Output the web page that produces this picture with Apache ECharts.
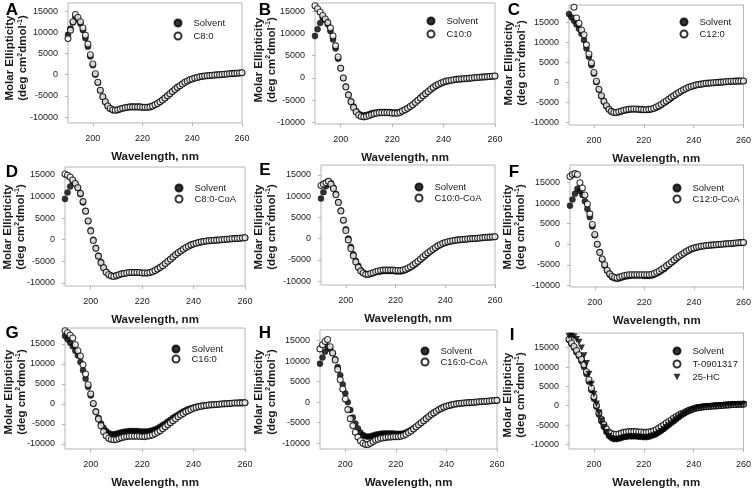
<!DOCTYPE html>
<html><head><meta charset="utf-8">
<script src="https://cdn.jsdelivr.net/npm/echarts@6/dist/echarts.min.js"></script>
<style>html,body{margin:0;padding:0;background:#fff}#c{width:754px;height:490px}</style>
</head><body><div id="c"></div>
<script>
const wavelengths = [190,191,192,193,194,195,196,197,198,199,200,201,202,203,204,205,206,207,208,209,210,211,212,213,214,215,216,217,218,219,220,221,222,223,224,225,226,227,228,229,230,231,232,233,234,235,236,237,238,239,240,241,242,243,244,245,246,247,248,249,250,251,252,253,254,255,256,257,258,259,260];
const xTicks = [200,220,240,260];
const yTicks = [-10000,-5000,0,5000,10000,15000];

// Solvent control (panels A, B, D, E, F, H)
const solventA = [9400,10900,12300,13500,13000,12000,10500,8600,6600,4300,
 2200,0,-1900,-3700,-5200,-6400,-7400,-8000,-8300,-8400,
 -8300,-8100,-7900,-7800,-7700,-7600,-7600,-7600,-7600,-7600,
 -7700,-7700,-7700,-7600,-7400,-7100,-6800,-6400,-6000,-5500,
 -5000,-4500,-4000,-3500,-3000,-2600,-2200,-1800,-1500,-1200,
 -1000,-800,-650,-500,-400,-300,-250,-200,-150,-100,
 -50,0,50,100,150,200,250,300,350,400,450];
// Solvent control (panels C, G)
const solventC = [17000,16200,15300,14400,13300,12100,10500,8400,6300,4200,
 2100,0,-1900,-3500,-4900,-6000,-6800,-7300,-7600,-7600,
 -7500,-7300,-7100,-7000,-6900,-6800,-6800,-6800,-6800,-6900,
 -6900,-6900,-6900,-6800,-6600,-6400,-6100,-5700,-5300,-4900,
 -4400,-4000,-3500,-3100,-2700,-2300,-1900,-1600,-1300,-1100,
 -900,-700,-600,-500,-400,-300,-250,-200,-150,-100,
 -50,0,50,100,150,200,250,250,300,300,300];
// Solvent control (panel I)
const solventI = [17000,16000,15000,13800,12800,11500,10000,8200,6200,4000,
 1800,-300,-2300,-4000,-5500,-6800,-7800,-8300,-8600,-8600,
 -8500,-8300,-8100,-8000,-7900,-7900,-7900,-7900,-8000,-8000,
 -8100,-8100,-8000,-7800,-7600,-7300,-6900,-6500,-6000,-5500,
 -5000,-4500,-4000,-3500,-3000,-2500,-2100,-1700,-1400,-1100,
 -800,-600,-500,-400,-300,-250,-200,-150,-100,-50,
 0,50,100,150,200,250,300,300,350,350,400];
const c8 = [8500,10500,12500,14200,13500,12500,11000,9300,7200,4700,
 2500,200,-1800,-3700,-5200,-6400,-7400,-8000,-8300,-8400,
 -8300,-8100,-7900,-7800,-7700,-7600,-7600,-7600,-7600,-7600,
 -7700,-7700,-7700,-7600,-7400,-7100,-6800,-6400,-6000,-5500,
 -5000,-4500,-4000,-3500,-3000,-2600,-2200,-1800,-1500,-1200,
 -1000,-800,-650,-500,-400,-300,-250,-200,-150,-100,
 -50,0,50,100,150,200,250,300,350,400,450];
const c10 = [16200,15500,14800,14000,13200,12400,11200,9400,7200,4700,
 2200,0,-2000,-3800,-5300,-6600,-7600,-8300,-8600,-8700,
 -8600,-8400,-8200,-8000,-7900,-7800,-7800,-7800,-7800,-7800,
 -7900,-7900,-7900,-7700,-7400,-7100,-6800,-6400,-6000,-5500,
 -5000,-4500,-4000,-3500,-3000,-2500,-2100,-1700,-1400,-1100,
 -900,-700,-600,-500,-400,-300,-250,-200,-150,-100,
 -50,0,50,100,150,200,250,300,350,400,450];
const c12 = [null,null,18700,16000,14700,13000,11800,9300,7000,4800,
 2400,200,-1800,-3400,-4800,-5900,-6800,-7300,-7600,-7600,
 -7400,-7200,-7000,-6900,-6800,-6700,-6700,-6700,-6800,-6800,
 -6900,-6900,-6800,-6700,-6500,-6200,-5900,-5500,-5100,-4700,
 -4300,-3800,-3400,-3000,-2600,-2200,-1900,-1600,-1300,-1100,
 -900,-700,-600,-500,-400,-300,-250,-200,-150,-100,
 -50,0,50,100,150,200,200,250,250,300,300];
const c8CoA = [15200,14900,14500,13800,13000,12000,10700,8800,6600,4300,
 2000,-200,-2000,-3800,-5300,-6500,-7500,-8100,-8400,-8500,
 -8300,-8100,-7900,-7800,-7700,-7600,-7600,-7600,-7600,-7600,
 -7700,-7700,-7700,-7600,-7400,-7100,-6800,-6400,-6000,-5500,
 -5000,-4500,-4000,-3500,-3000,-2600,-2200,-1800,-1500,-1200,
 -1000,-800,-650,-500,-400,-300,-250,-200,-150,-100,
 -50,0,50,100,150,200,250,300,350,400,450];
const c10CoA = [12500,12800,13100,13500,12800,11800,10300,8500,6500,4300,
 1900,-300,-2300,-4000,-5500,-6700,-7600,-8100,-8400,-8400,
 -8200,-8000,-7800,-7600,-7500,-7400,-7400,-7400,-7400,-7400,
 -7500,-7500,-7500,-7400,-7200,-6900,-6600,-6200,-5800,-5300,
 -4800,-4300,-3800,-3300,-2900,-2500,-2100,-1700,-1400,-1100,
 -900,-750,-600,-500,-400,-300,-250,-200,-150,-100,
 -50,0,50,100,150,200,250,300,350,400,450];
const c12CoA = [16500,17000,17200,17000,15000,13700,12000,9800,7400,4800,
 2400,0,-2000,-3600,-5000,-6300,-7200,-7800,-8100,-8200,
 -8000,-7800,-7600,-7500,-7400,-7400,-7400,-7400,-7400,-7400,
 -7400,-7400,-7400,-7300,-7100,-6800,-6500,-6100,-5700,-5200,
 -4800,-4300,-3800,-3300,-2900,-2500,-2100,-1700,-1400,-1100,
 -900,-750,-600,-500,-400,-300,-250,-200,-150,-100,
 -50,0,50,100,150,200,250,300,350,400,450];
const c16 = [18300,17800,17200,16500,14800,13300,12000,9800,7500,4800,
 2500,100,-2000,-3800,-5500,-7000,-8000,-8600,-8900,-9000,
 -8900,-8700,-8500,-8300,-8200,-8100,-8100,-8100,-8100,-8100,
 -8200,-8200,-8100,-8000,-7800,-7500,-7100,-6700,-6200,-5700,
 -5200,-4700,-4200,-3700,-3200,-2800,-2400,-2000,-1700,-1400,
 -1100,-900,-700,-600,-500,-400,-300,-250,-200,-150,
 -100,-50,0,50,100,150,200,200,250,250,300];
const c16CoA = [13000,14000,14800,15300,13500,12000,10300,8000,5500,3200,
 800,-1800,-4000,-5700,-7300,-8500,-9400,-10000,-10300,-10300,
 -10000,-9600,-9200,-9000,-8800,-8700,-8600,-8500,-8500,-8400,
 -8400,-8400,-8300,-8100,-7800,-7400,-7000,-6500,-6000,-5500,
 -5000,-4500,-4000,-3500,-3000,-2600,-2200,-1800,-1500,-1200,
 -1000,-800,-650,-500,-400,-300,-250,-200,-150,-100,
 -50,0,50,100,150,200,250,300,350,400,450];
const t0901317 = [17200,16200,15300,14300,13200,12000,10600,8800,6700,4500,
 2300,100,-1800,-3500,-4900,-6000,-6800,-7200,-7400,-7400,
 -7300,-7100,-6900,-6800,-6700,-6700,-6700,-6700,-6800,-6800,
 -6900,-6900,-6800,-6700,-6500,-6200,-5800,-5400,-5000,-4500,
 -4100,-3700,-3200,-2800,-2400,-2100,-1800,-1500,-1200,-1000,
 -800,-600,-500,-400,-300,-250,-200,-150,-100,-50,
 0,50,100,150,200,250,300,300,350,350,400];
const hc25 = [18000,18000,17800,17200,16500,15000,13000,11000,8200,5600,
 3000,500,-1800,-3800,-5500,-6900,-7900,-8400,-8700,-8700,
 -8600,-8400,-8200,-8100,-8000,-8000,-8000,-8000,-8100,-8100,
 -8200,-8200,-8100,-7900,-7700,-7400,-7000,-6600,-6100,-5600,
 -5100,-4600,-4100,-3600,-3100,-2600,-2200,-1800,-1500,-1200,
 -900,-700,-550,-450,-350,-250,-200,-150,-100,-50,
 0,50,100,150,200,250,300,300,350,350,400];

const panelLetters = ['A','B','C','D','E','F','G','H','I'];
const panelSeries = [
  [['Solvent', solventA, 'filled'], ['C8:0', c8, 'open']],
  [['Solvent', solventA, 'filled'], ['C10:0', c10, 'open']],
  [['Solvent', solventC, 'filled'], ['C12:0', c12, 'open']],
  [['Solvent', solventA, 'filled'], ['C8:0-CoA', c8CoA, 'open']],
  [['Solvent', solventA, 'filled'], ['C10:0-CoA', c10CoA, 'open']],
  [['Solvent', solventA, 'filled'], ['C12:0-CoA', c12CoA, 'open']],
  [['Solvent', solventC, 'filled'], ['C16:0', c16, 'open']],
  [['Solvent', solventA, 'filled'], ['C16:0-CoA', c16CoA, 'open']],
  [['Solvent', solventI, 'filled'], ['T-0901317', t0901317, 'open'], ['25-HC', hc25, 'tri']]
];

// layout: frame left, top, right, bottom (px), y-range
const layout = [
  {L:68, T:3,   R:242, B:123, ymin:-11400, ymax:16900, leg:[172,18,13], letter:[12,10], ytitle:[16.5,58]},
  {L:315,T:3,   R:495, B:124, ymin:-10300, ymax:16800, leg:[425,16,13], letter:[265,10], ytitle:[265,60]},
  {L:569,T:5,   R:746, B:125, ymin:-10700, ymax:19250, leg:[678,17,12], letter:[514,10], ytitle:[515,63]},
  {L:65, T:167, R:245, B:286, ymin:-10700, ymax:16800, leg:[173,183,11], letter:[12,172], ytitle:[14,227]},
  {L:321,T:165, R:495, B:285, ymin:-10900, ymax:17300, leg:[413,182,11], letter:[265,170], ytitle:[265,227]},
  {L:570,T:165, R:745, B:287, ymin:-10400, ymax:19300, leg:[671,183,11], letter:[514,172], ytitle:[514,227]},
  {L:65, T:328, R:245, B:452, ymin:-11300, ymax:19000, leg:[170,344,10], letter:[12,333], ytitle:[15,392]},
  {L:320,T:330, R:497, B:449, ymin:-11400, ymax:17600, leg:[419,346,11], letter:[265,333], ytitle:[265,392]},
  {L:569,T:333, R:745, B:455, ymin:-11200, ymax:18800, leg:[671,346,13], letter:[512,335], ytitle:[514,395]}
];

const FONT = 'Arial, "Liberation Sans", sans-serif';
const TXT = '#1a1a1a';
const FRAME = '#b5b5b5';
const grids = [], xAxes = [], yAxes = [], series = [], legends = [], graphics = [];
const triPath = 'path://M0,0 L10,0 L5,9 Z';
const plain = v => String(v);

layout.forEach((p, i) => {
  grids.push({left:p.L, top:p.T, width:p.R-p.L, height:p.B-p.T, show:true, borderColor:FRAME, borderWidth:1, backgroundColor:'transparent'});
  xAxes.push({type:'value', gridIndex:i, min:190, max:260,
    name:'Wavelength, nm', nameLocation:'middle', nameGap:28,
    nameTextStyle:{fontFamily:FONT, fontWeight:'bold', fontSize:11.5, color:TXT},
    axisLine:{show:false, onZero:false}, splitLine:{show:false},
    axisTick:{show:true, customValues:xTicks, length:3, inside:false, lineStyle:{color:FRAME}},
    axisLabel:{customValues:xTicks, formatter:plain, fontFamily:FONT, fontSize:9, color:TXT, margin:11}
  });
  yAxes.push({type:'value', gridIndex:i, min:p.ymin, max:p.ymax,
    axisLine:{show:false, onZero:false}, splitLine:{show:false},
    axisTick:{show:true, customValues:yTicks, length:3, lineStyle:{color:FRAME}},
    axisLabel:{customValues:yTicks, formatter:plain, fontFamily:FONT, fontSize:9, color:TXT, margin:10}
  });
  const names = [];
  panelSeries[i].forEach(([name, vals, kind]) => {
    names.push(name);
    const s = {type:'scatter', name, xAxisIndex:i, yAxisIndex:i,
      data: wavelengths.map((w, j) => [w, vals[j]]),
      symbolSize: 6, silent:true, animation:false};
    if (kind === 'filled') { s.symbol = 'circle'; s.itemStyle = {color:'#000', borderColor:'#000', borderWidth:0.5}; }
    else if (kind === 'open') { s.symbol = 'circle'; s.itemStyle = {color:'#fff', borderColor:'#000', borderWidth:1.05}; }
    else { s.symbol = triPath; s.symbolSize = [7,6.5]; s.itemStyle = {color:'#000'}; }
    series.push(s);
  });
  const [mx, my, sp] = p.leg;
  legends.push({orient:'vertical', left: mx-3.5, top: my-5, itemWidth:7, itemHeight:7, itemGap: sp-10,
    selectedMode:false, data: names.map(n => ({name:n})),
    textStyle:{fontFamily:FONT, fontSize:9.5, color:'#222', lineHeight:10, padding:[0,0,0,7]}});
  graphics.push({type:'text', x:p.letter[0], y:p.letter[1],
    style:{text:panelLetters[i], fontFamily:FONT, fontWeight:'bold', fontSize:17, fill:'#000', align:'center', verticalAlign:'middle'}});
  graphics.push({type:'text', x:p.ytitle[0], y:p.ytitle[1], rotation:Math.PI/2,
    style:{text:'{a|Molar Ellipticity}\n{a|(deg cm}{s|2}{a|dmol}{s|-1}{a|)}',
      align:'center', verticalAlign:'middle', fill:TXT,
      rich:{a:{fontFamily:FONT, fontWeight:'bold', fontSize:11.5, lineHeight:13, fill:TXT},
            s:{fontFamily:FONT, fontWeight:'bold', fontSize:7, lineHeight:13, verticalAlign:'top', fill:TXT}}}});
});

const chart = echarts.init(document.getElementById('c'), null, {renderer:'canvas'});
chart.setOption({animation:false, grid:grids, xAxis:xAxes, yAxis:yAxes, series, legend:legends, graphic:graphics});
</script></body></html>
